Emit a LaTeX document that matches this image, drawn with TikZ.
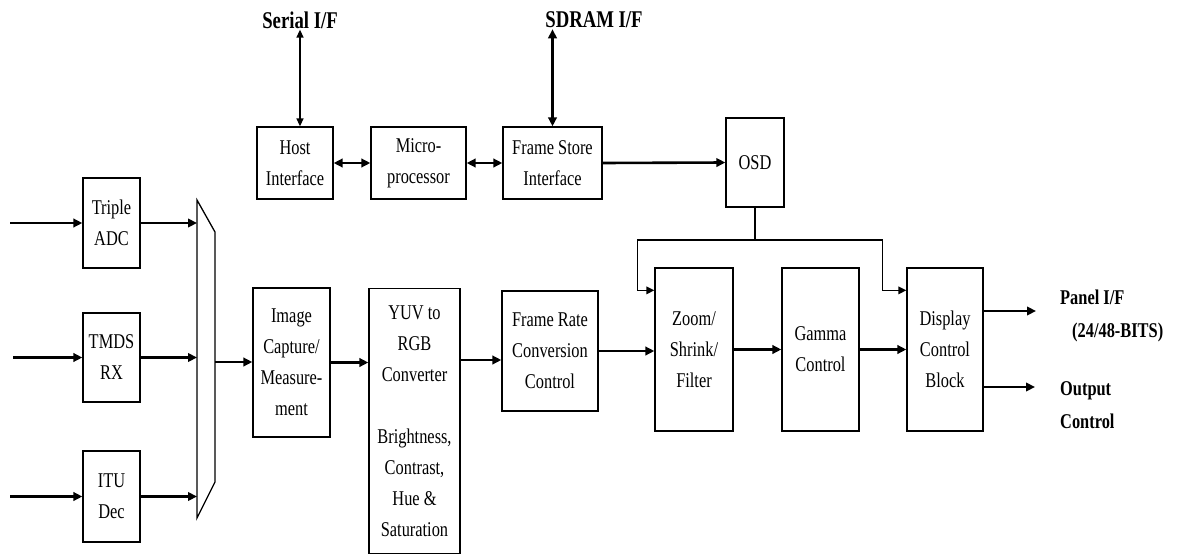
\documentclass[tikz,border=0pt]{standalone}
\usepackage{fontspec}
\setmainfont[FakeStretch=0.78]{Liberation Serif}
\usetikzlibrary{arrows.meta,positioning,calc}
\tikzset{
  procbox/.style ={draw=black, line width=1.3pt, fill=white,
                   align=center, inner sep=2pt,
                   font=\fontsize{21}{31}\selectfont},
  iolabel/.style ={align=left, inner sep=1pt,
                   font=\bfseries\fontsize{21}{33}\selectfont},
  toplabel/.style={inner sep=1pt, font=\bfseries\fontsize{24}{28}\selectfont},
  flowarr/.style ={-{Triangle[length=9pt,width=8.5pt]}, line width=2.6pt},
  dblarr/.style  ={{Triangle[length=9pt,width=8.5pt]}-{Triangle[length=9pt,width=8.5pt]}, line width=2.6pt},
  thindbl/.style ={{Triangle[length=8pt,width=7pt]}-{Triangle[length=8pt,width=7pt]}, line width=1.4pt},
  feedarr/.style ={-{Triangle[length=8pt,width=7.5pt]}, line width=1.7pt},
  feedline/.style={line width=1.7pt},
  muxline/.style ={line width=1.3pt, line join=miter},
}
\begin{document}
\begin{tikzpicture}[x=1pt,y=-1pt]
    \useasboundingbox[fill=white] (0,0) rectangle (1179,557);

    % ----- control path (top row) -----
    \node[toplabel] (serial) at (300,20) {Serial I/F};
    \node[toplabel] (sdram) at (594,20) {SDRAM I/F};

    \node[procbox,minimum width=76,minimum height=72] (host) at (295,163) {Host\\Interface};
    \node[procbox,minimum width=95,minimum height=72] (micro) at (418.5,163) {Micro-\\processor};
    \node[procbox,minimum width=99,minimum height=72] (fsi) at (552.5,163) {Frame Store\\Interface};
    \node[procbox,minimum width=58,minimum height=89] (osd) at (755,162.5) {OSD};

    \draw[thindbl] (serial.south) -- (serial.south |- host.north);
    \draw[dblarr]  (fsi.north |- sdram.south) -- (fsi.north);
    \draw[dblarr]  (host.east) -- (micro.west);
    \draw[dblarr]  (micro.east) -- (fsi.west);
    \draw[flowarr] (fsi.east) -- (osd.west);

    % ----- input front ends -----
    \node[procbox,minimum width=57,minimum height=90] (adc) at (111.5,223) {Triple\\ADC};
    \node[procbox,minimum width=57,minimum height=89] (tmds) at (111.5,357.5) {TMDS\\RX};
    \node[procbox,minimum width=57,minimum height=91] (itu) at (111.5,496.5) {ITU\\Dec};

    \coordinate (inadc) at (10,223);
    \coordinate (intmds) at (13,357.5);
    \coordinate (initu) at (10,496.5);
    \draw[flowarr] (inadc) -- (adc.west);
    \draw[flowarr] (intmds) -- (tmds.west);
    \draw[flowarr] (initu) -- (itu.west);

    % ----- input selector -----
    \coordinate (muxnw) at (197,200);
    \coordinate (muxne) at (215,232);
    \coordinate (muxse) at (215,482);
    \coordinate (muxsw) at (197,518);
    \coordinate (muxout) at (215,362);
    \draw[muxline] (muxnw) -- (muxne) -- (muxse) -- (muxsw) -- cycle;

    \draw[flowarr] (adc.east) -- (adc.east -| muxnw);
    \draw[flowarr] (tmds.east) -- (tmds.east -| muxnw);
    \draw[flowarr] (itu.east) -- (itu.east -| muxnw);

    % ----- video path (bottom row) -----
    \node[procbox,minimum width=77,minimum height=149] (imc) at (291.5,362.5) {Image\\Capture/\\Measure-\\ment};
    \node[procbox,minimum width=91,minimum height=265] (yuv) at (414.5,421) {YUV to\\RGB\\Converter\\[31pt]Brightness,\\Contrast,\\Hue \&\\Saturation};
    \node[procbox,minimum width=96,minimum height=120] (frc) at (550,351) {Frame Rate\\Conversion\\Control};
    \node[procbox,minimum width=78,minimum height=163] (zoom) at (694,349.5) {Zoom/\\Shrink/\\Filter};
    \node[procbox,minimum width=77,minimum height=163] (gamma) at (820.5,349.5) {Gamma\\Control};
    \node[procbox,minimum width=76,minimum height=163] (disp) at (945,349.5) {Display\\Control\\Block};

    \draw[flowarr] (muxout) -- (muxout -| imc.west);
    \draw[flowarr] (imc.east) -- (imc.east -| yuv.west);
    \draw[flowarr] ($(yuv.east |- frc.west)+(0,9)$) -- ($(frc.west)+(0,9)$);
    \draw[flowarr] (frc.east) -- (frc.east -| zoom.west);
    \draw[flowarr] (zoom.east) -- (gamma.west);
    \draw[flowarr] (gamma.east) -- (disp.west);

    % ----- OSD overlay feed -----
    \draw[feedline] (osd.south) -- ++(0,32) coordinate (osdtap);
    \draw[feedarr] (osdtap) -| ($(zoom.north west)+(-17,23)$) -- ($(zoom.north west)+(0,23)$);
    \draw[feedarr] (osdtap) -| ($(disp.north west)+(-24,23)$) -- ($(disp.north west)+(0,23)$);

    % ----- outputs -----
    \coordinate (panelend) at (1036,311);
    \coordinate (outend) at (1035,387);
    \draw[flowarr] (disp.east |- panelend) -- (panelend);
    \draw[flowarr] (disp.east |- outend) -- (outend);

    \node[iolabel,anchor=north west] (panel) at (1059,289) {Panel I/F\\\hspace{12pt}(24/48-BITS)};
    \node[iolabel,anchor=north west] (outctl) at (1059,380) {Output\\Control};
\end{tikzpicture}
\end{document}
